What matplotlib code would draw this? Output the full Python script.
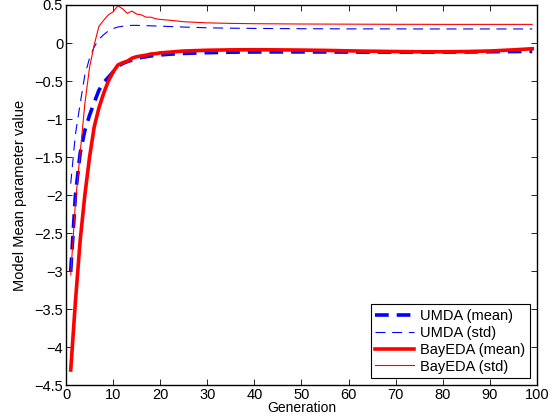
import matplotlib
matplotlib.use("Agg")
import matplotlib.pyplot as plt

plt.rcParams['font.family'] = ['Liberation Sans', 'DejaVu Sans']

# generations sampled from the curves (dense at the start, sparse on the plateau)
generations = [1, 2, 3, 4, 5, 6, 7, 8, 9, 10, 11, 12, 13, 14, 15, 16, 17, 18, 19, 20,
               22, 25, 30, 35, 40, 45, 50, 55, 60, 65, 70, 75, 80, 85, 90, 95, 99]

umda_mean = [-3.0, -2.0, -1.45, -1.15, -0.95, -0.78, -0.62, -0.52, -0.45, -0.38,
             -0.31, -0.27, -0.245, -0.225, -0.205, -0.19, -0.18, -0.17, -0.163, -0.157,
             -0.147, -0.137, -0.127, -0.121, -0.118, -0.117, -0.117, -0.118, -0.119, -0.12,
             -0.12, -0.12, -0.12, -0.118, -0.115, -0.112, -0.11]

umda_std = [-1.85, -1.2, -0.8, -0.42, -0.2, -0.05, 0.05, 0.11, 0.16, 0.19,
            0.21, 0.22, 0.228, 0.232, 0.232, 0.23, 0.228, 0.226, 0.224, 0.222,
            0.217, 0.21, 0.2, 0.195, 0.192, 0.19, 0.188, 0.187, 0.186, 0.186,
            0.186, 0.185, 0.185, 0.185, 0.185, 0.185, 0.185]

bayeda_mean = [-4.3, -3.4, -2.6, -2.0, -1.5, -1.1, -0.85, -0.66, -0.5, -0.38,
               -0.29, -0.26, -0.24, -0.2, -0.18, -0.17, -0.16, -0.145, -0.14, -0.13,
               -0.12, -0.105, -0.095, -0.09, -0.088, -0.09, -0.093, -0.097, -0.103, -0.108,
               -0.112, -0.115, -0.115, -0.112, -0.105, -0.09, -0.075]

bayeda_std = [-3.05, -2.1, -1.45, -0.8, -0.32, -0.02, 0.22, 0.3, 0.37, 0.41,
              0.49, 0.45, 0.39, 0.42, 0.38, 0.37, 0.34, 0.34, 0.32, 0.31,
              0.3, 0.28, 0.265, 0.258, 0.254, 0.252, 0.25, 0.249, 0.248, 0.247,
              0.246, 0.246, 0.245, 0.245, 0.245, 0.245, 0.245]

fig = plt.figure(figsize=(5.57, 4.16), dpi=100)
ax = fig.add_axes([0.1185, 0.074, 0.8455, 0.914])

ax.plot(generations, umda_mean, color='blue', lw=2.6, ls=(0, (3.8, 2.2)), label='UMDA (mean)')
ax.plot(generations, umda_std, color='blue', lw=0.8, ls=(0, (9, 6)), label='UMDA (std)')
ax.plot(generations, bayeda_mean, color='red', lw=2.6, label='BayEDA (mean)')
ax.plot(generations, bayeda_std, color='red', lw=0.8, label='BayEDA (std)')

ax.set_xlim(0, 100)
ax.set_ylim(-4.5, 0.5)
ax.set_xticks(range(0, 101, 10))
ax.set_yticks([0.5, 0, -0.5, -1, -1.5, -2, -2.5, -3, -3.5, -4, -4.5])
ax.set_yticklabels(['0.5', '0', '\u22120.5', '\u22121', '\u22121.5', '\u22122', '\u22122.5',
                    '\u22123', '\u22123.5', '\u22124', '\u22124.5'])
ax.tick_params(direction='in', top=True, right=True, labelsize=10.5, length=4, width=0.6, pad=2)
for s in ax.spines.values():
    s.set_linewidth(1.0)

ax.set_xlabel('Generation', fontsize=10, labelpad=-1)
ax.set_ylabel('Model Mean parameter value', fontsize=10.5, labelpad=5)

leg = ax.legend(loc='lower right', fontsize=10.5, fancybox=False, framealpha=1,
                edgecolor='black', handlelength=2.7, borderpad=0.3, labelspacing=0.2,
                handletextpad=0.4, borderaxespad=0.5)
leg.get_frame().set_linewidth(0.8)

fig.savefig('out.png', dpi=100)
